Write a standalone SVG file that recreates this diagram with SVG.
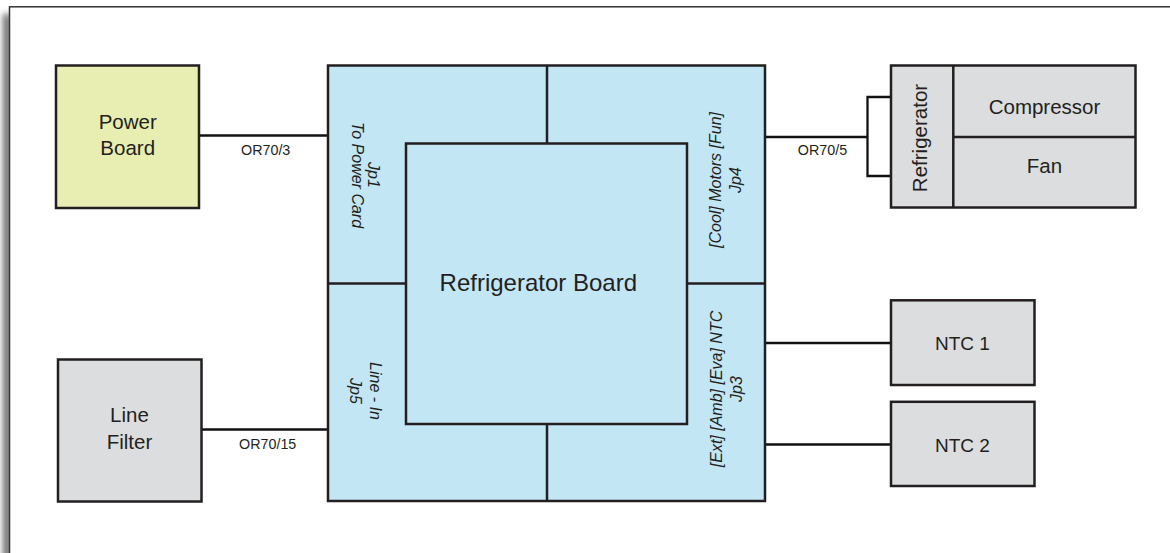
<svg xmlns="http://www.w3.org/2000/svg" width="1170" height="553" viewBox="0 0 1170 553">
  <defs>
    <filter id="shadow" x="-2" y="-0.1" width="5" height="1.2">
      <feGaussianBlur stdDeviation="3"/>
    </filter>
    <style>
      .box { stroke: #231f20; stroke-width: 2.5; }
      .yellow { fill: #e8edb1; }
      .blue { fill: #c3e6f5; }
      .gray { fill: #dcdddf; }
      .div { stroke: #231f20; stroke-width: 2.5; fill: none; }
      .wire { stroke: #111111; stroke-width: 2.3; fill: none; }
      .lbl { font-family: "Liberation Sans", Arial, sans-serif; fill: #231f20; text-anchor: middle; }
      .node { font-size: 20.5px; }
      .big { font-size: 24px; }
      .ntc { font-size: 19px; }
      .wl { font-size: 14.3px; }
      .jp { font-size: 16px; font-style: italic; }
    </style>
  </defs>

  <!-- page frame with shadow -->
  <rect x="0" y="0" width="1170" height="553" fill="#ffffff"/>
  <rect x="3" y="14" width="8" height="620" fill="#6a6a6a" filter="url(#shadow)"/>
  <rect x="9.5" y="6.8" width="1200" height="600" fill="#ffffff" stroke="#333333" stroke-width="1.5"/>

  <g id="connectors">
    <path class="wire" d="M199,135.5 H328"/>
    <path class="wire" d="M201,429.5 H328"/>
    <path class="wire" d="M765,137 H867.5"/>
    <path class="wire" d="M891,97 H867.5 V176 H891"/>
    <path class="wire" d="M765,343 H891"/>
    <path class="wire" d="M765,444.5 H891"/>
    <text class="lbl wl" x="265.7" y="155">OR70/3</text>
    <text class="lbl wl" x="267.7" y="449.3">OR70/15</text>
    <text class="lbl wl" x="822.5" y="154.5">OR70/5</text>
  </g>

  <g id="power-board">
    <rect class="box yellow" x="56" y="65.5" width="143" height="142.5"/>
    <text class="lbl node" x="127.7" y="128.5">Power</text>
    <text class="lbl node" x="127.7" y="155">Board</text>
  </g>

  <g id="line-filter">
    <rect class="box gray" x="58" y="359.5" width="143.5" height="142"/>
    <text class="lbl node" x="129.5" y="422.3">Line</text>
    <text class="lbl node" x="129.5" y="449.3">Filter</text>
  </g>

  <g id="refrigerator-board">
    <rect class="box blue" x="328" y="65.5" width="437" height="435.5"/>
    <path class="div" d="M547,65.5 V143.5 M547,424 V501 M328,283.5 H406 M687,283.5 H765"/>
    <rect class="box blue" x="406" y="143.5" width="281" height="280.5"/>
    <text class="lbl big" x="538.3" y="291">Refrigerator Board</text>
    <text class="lbl jp" transform="translate(360,175) rotate(90)"><tspan x="0" y="-8">Jp1</tspan><tspan x="0" y="8">To Power Card</tspan></text>
    <text class="lbl jp" transform="translate(731,180) rotate(-90)"><tspan x="0" y="-10">[Cool] Motors [Fun]</tspan><tspan x="0" y="10">Jp4</tspan></text>
    <text class="lbl jp" transform="translate(360,391) rotate(90)"><tspan x="0" y="-10">Line - In</tspan><tspan x="0" y="10">Jp5</tspan></text>
    <text class="lbl jp" transform="translate(731.5,389) rotate(-90)"><tspan x="0" y="-10">[Ext] [Amb] [Eva] NTC</tspan><tspan x="0" y="10">Jp3</tspan></text>
  </g>

  <g id="refrigerator">
    <rect class="box gray" x="891" y="65.5" width="244.5" height="142"/>
    <path class="div" d="M953.3,65.5 V207.5 M953.3,137 H1135.5"/>
    <text class="lbl node" transform="translate(927,138) rotate(-90)">Refrigerator</text>
    <text class="lbl node" x="1044.5" y="114.3">Compressor</text>
    <text class="lbl node" x="1044.5" y="172.7">Fan</text>
  </g>

  <g id="ntc1">
    <rect class="box gray" x="891" y="300.3" width="143.5" height="84.7"/>
    <text class="lbl ntc" x="962.5" y="350">NTC 1</text>
  </g>

  <g id="ntc2">
    <rect class="box gray" x="891" y="401.8" width="143.5" height="84.2"/>
    <text class="lbl ntc" x="962.5" y="452">NTC 2</text>
  </g>
</svg>
